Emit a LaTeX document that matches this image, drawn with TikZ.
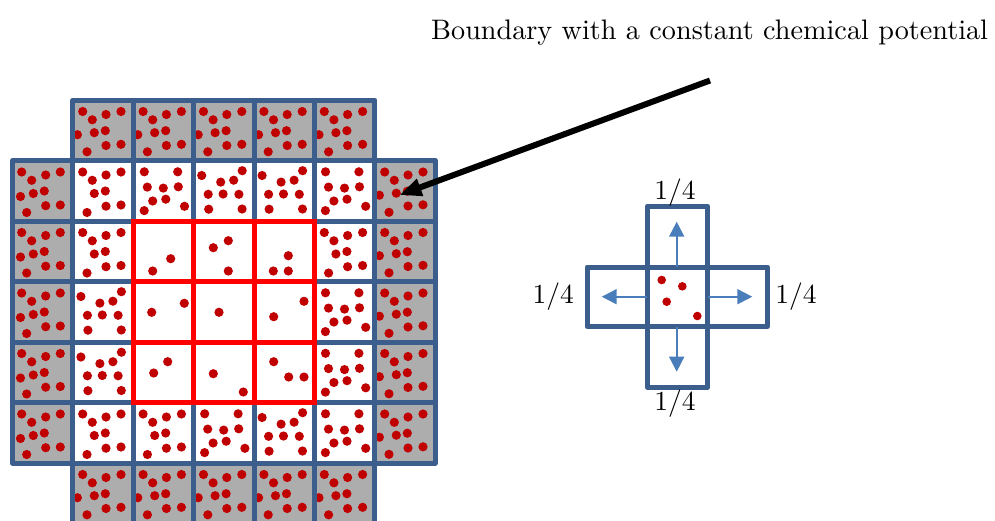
\documentclass[tikz,border=0pt]{standalone}
\usepackage{fontspec}
\setmainfont{lmroman10-regular.otf}
\usetikzlibrary{arrows.meta}
\definecolor{gridblue}{HTML}{3B5E8C}
\definecolor{cellgray}{HTML}{ADADAD}
\definecolor{dotred}{HTML}{C00000}
\definecolor{arrblue}{HTML}{4A7EBB}
\definecolor{innerred}{HTML}{FF0000}
\tikzset{
  dotfill/.style={fill=dotred},
  gridline/.style={draw=gridblue,line width=5pt,line join=round},
  redline/.style={draw=innerred,line width=5pt,line join=miter},
  bigarrow/.style={line width=6pt,-{Triangle[length=22pt,width=17pt]}},
  smallarrow/.style={draw=arrblue,line width=1.8pt,-{Triangle[length=15pt,width=15pt]},arrblue},
  lab/.style={font=\fontsize{27.5}{33}\selectfont,inner sep=0pt,anchor=base},
}
\newcommand{\dotsat}[1]{\foreach \dx/\dy in {#1} {\fill[dotfill] (\dx,\dy) circle[radius=4.6pt];}}
\newcommand{\patA}{\dotsat{9.8/11.5,19.4/19.8,33.1/14.5,48.1/11.5,4.5/34.7,21.4/32.7,32.4/30.7,33.1/45.5,48.1/44.3,14.1/51.8}}
\newcommand{\patAl}{\dotsat{9.2/11.5,19.2/19.8,33.2/14.5,47.8/11.5,8/36,20.8/33,31.8/30.5,33.2/45.2,47.8/44.5,14.2/52}}
\newcommand{\patW}{\dotsat{9.8/11.5,19.4/19.8,33.1/14.5,48.1/11.5,21.4/33,32.4/30.5,33.1/45.7,48.1/44.5,14.1/52}}
\newcommand{\patWb}{\dotsat{11/11.3,44.4/11.3,14/26.6,30/27.6,45/26.3,19.4/40.5,32.5/38.7,10.9/50.1,51.2/45.8}}
\newcommand{\patWc}{\dotsat{8/15,48.5/10.2,27/21.6,40/19.7,14.5/33.8,29.4/33.5,45.2/33.8,15/48.7,48.4/48.5}}
\begin{document}
\begin{tikzpicture}[x=1pt,y=-1pt]
\useasboundingbox (0,0) rectangle (995,520);
\clip (0,0) rectangle (995,520);
% gray cells
\foreach \c/\r in {1/0,2/0,3/0,4/0,5/0,1/6,2/6,3/6,4/6,5/6,0/1,0/2,0/3,0/4,0/5,6/1,6/2,6/3,6/4,6/5}
  \fill[cellgray] ({12.5+60.4*\c},{100+60.5*\r}) rectangle ++(60.4,60.5);
% dots in outer cells
\foreach \c/\r/\pat in {1/0/A,2/0/A,3/0/A,4/0/A,5/0/A,1/6/A,2/6/A,3/6/A,4/6/A,5/6/A,0/1/Al,0/2/Al,0/3/Al,0/4/Al,0/5/Al,6/1/A,6/2/A,6/3/A,6/4/A,6/5/A,
  1/1/W,2/1/Wb,3/1/Wc,4/1/Wc,5/1/Wb,1/2/W,5/2/W,1/3/Wc,5/3/Wb,1/4/Wc,5/4/Wb,1/5/W,2/5/W,3/5/Wb,4/5/Wc,5/5/Wb}
  {\begin{scope}[shift={({12.5+60.4*\c},{100+60.5*\r})}]\csname pat\pat\endcsname\end{scope}}
% dots in inner cells
\begin{scope}[shift={(133.3,221)}]\dotsat{37.4/37.7,19.4/50}\end{scope}
\begin{scope}[shift={(193.7,221)}]\dotsat{19.6/26.7,34.6/19.7,34.6/50}\end{scope}
\begin{scope}[shift={(254.1,221)}]\dotsat{34.2/34.7,19.2/50,34.2/50}\end{scope}
\begin{scope}[shift={(133.3,281.5)}]\dotsat{18.4/30.8,51/21.8}\end{scope}
\begin{scope}[shift={(193.7,281.5)}]\dotsat{25.3/30.8}\end{scope}
\begin{scope}[shift={(254.1,281.5)}]\dotsat{49.9/19.8,19.6/35.2}\end{scope}
\begin{scope}[shift={(133.3,342)}]\dotsat{34.4/19.7,20.4/31}\end{scope}
\begin{scope}[shift={(193.7,342)}]\dotsat{19.6/31.7,49.6/50}\end{scope}
\begin{scope}[shift={(254.1,342)}]\dotsat{19.6/19.7,34.6/35,49.9/35}\end{scope}
% blue cell borders
\foreach \c/\r in {1/0,2/0,3/0,4/0,5/0,1/6,2/6,3/6,4/6,5/6}
  \draw[gridline] ({12.5+60.4*\c},{100+60.5*\r}) rectangle ++(60.4,60.5);
\foreach \r in {1,...,5}
  \foreach \c in {0,...,6}
    \draw[gridline] ({12.5+60.4*\c},{100+60.5*\r}) rectangle ++(60.4,60.5);
% red inner cells
\foreach \r in {2,3,4}
  \foreach \c in {2,3,4}
    \draw[redline] ({12.5+60.4*\c},{100+60.5*\r}) rectangle ++(60.4,60.5);
% title and arrow
\node[font=\fontsize{28.2}{34}\selectfont,inner sep=0pt,anchor=base west] (title) at (431,39.3) {Boundary with a constant chemical potential};
\coordinate (tail) at (710,80.5);
\coordinate (tip) at (399.5,195);
\draw[bigarrow] (tail) -- (tip);
% cross
\fill[dotred] (661.7,280) circle[radius=4.3pt] (682.3,286.3) circle[radius=4.3pt] (666.7,301.7) circle[radius=4.3pt] (697.3,316) circle[radius=4.3pt];
\draw[gridline] (647.5,206) rectangle (707.5,267);
\draw[gridline] (587,267) rectangle (647.5,326.5);
\draw[gridline] (647.5,267) rectangle (707.5,326.5);
\draw[gridline] (707.5,267) rectangle (767.5,326.5);
\draw[gridline] (647.5,326.5) rectangle (707.5,387.5);
\coordinate (cu0) at (676.7,266.5);
\coordinate (cu1) at (676.7,221.7);
\coordinate (cd0) at (676.7,327);
\coordinate (cd1) at (676.7,371.7);
\coordinate (cl0) at (647,296.7);
\coordinate (cl1) at (601.7,296.7);
\coordinate (cr0) at (708,296.7);
\coordinate (cr1) at (752.3,296.7);
\draw[smallarrow] (cu0) -- (cu1);
\draw[smallarrow] (cd0) -- (cd1);
\draw[smallarrow] (cl0) -- (cl1);
\draw[smallarrow] (cr0) -- (cr1);
\node[lab] (ltop) at (675,199.3) {1/4};
\node[lab] (lbot) at (675,410.7) {1/4};
\node[lab] (lleft) at (553.3,303) {1/4};
\node[lab] (lright) at (796,303) {1/4};
\end{tikzpicture}
\end{document}
